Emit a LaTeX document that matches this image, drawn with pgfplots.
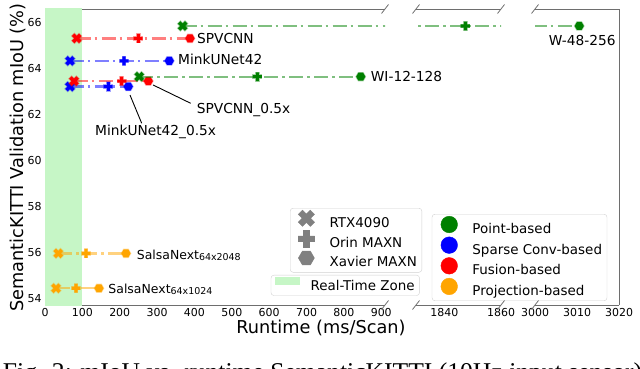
\documentclass[border=0pt]{standalone}
\usepackage{pgfplots}
\pgfplotsset{compat=1.18}
\usepackage{fontspec}
\setmainfont{DejaVu Sans}
\newfontfamily\capfont{Liberation Serif}
\definecolor{cG}{RGB}{0,128,0}
\definecolor{cB}{RGB}{0,0,255}
\definecolor{cR}{RGB}{255,0,0}
\definecolor{cO}{RGB}{255,165,0}
\definecolor{rtz}{RGB}{198,246,198}
\definecolor{spine}{RGB}{110,110,110}
\definecolor{mgray}{RGB}{128,128,128}

\newcommand\plusPath{%
 \pgfpathmoveto{\pgfqpoint{.35\pgfplotmarksize}{\pgfplotmarksize}}%
 \pgfpathlineto{\pgfqpoint{.35\pgfplotmarksize}{.35\pgfplotmarksize}}%
 \pgfpathlineto{\pgfqpoint{\pgfplotmarksize}{.35\pgfplotmarksize}}%
 \pgfpathlineto{\pgfqpoint{\pgfplotmarksize}{-.35\pgfplotmarksize}}%
 \pgfpathlineto{\pgfqpoint{.35\pgfplotmarksize}{-.35\pgfplotmarksize}}%
 \pgfpathlineto{\pgfqpoint{.35\pgfplotmarksize}{-\pgfplotmarksize}}%
 \pgfpathlineto{\pgfqpoint{-.35\pgfplotmarksize}{-\pgfplotmarksize}}%
 \pgfpathlineto{\pgfqpoint{-.35\pgfplotmarksize}{-.35\pgfplotmarksize}}%
 \pgfpathlineto{\pgfqpoint{-\pgfplotmarksize}{-.35\pgfplotmarksize}}%
 \pgfpathlineto{\pgfqpoint{-\pgfplotmarksize}{.35\pgfplotmarksize}}%
 \pgfpathlineto{\pgfqpoint{-.35\pgfplotmarksize}{.35\pgfplotmarksize}}%
 \pgfpathlineto{\pgfqpoint{-.35\pgfplotmarksize}{\pgfplotmarksize}}%
 \pgfpathclose}
\pgfdeclareplotmark{Pplus}{\plusPath\pgfusepathqfillstroke}
\pgfdeclareplotmark{Xcross}{\pgftransformrotate{45}\plusPath\pgfusepathqfillstroke}
\pgfdeclareplotmark{hexa}{%
 \pgfpathmoveto{\pgfqpointpolar{0}{\pgfplotmarksize}}%
 \pgfpathlineto{\pgfqpointpolar{60}{\pgfplotmarksize}}%
 \pgfpathlineto{\pgfqpointpolar{120}{\pgfplotmarksize}}%
 \pgfpathlineto{\pgfqpointpolar{180}{\pgfplotmarksize}}%
 \pgfpathlineto{\pgfqpointpolar{240}{\pgfplotmarksize}}%
 \pgfpathlineto{\pgfqpointpolar{300}{\pgfplotmarksize}}%
 \pgfpathclose\pgfusepathqfillstroke}

\tikzset{
 lg/.style={draw=black!18, rounded corners=3bp, fill=white,
   font=\fontsize{13.5}{15}\selectfont},
 lbl/.style={font=\fontsize{13.8}{16}\selectfont, inner sep=0pt},
}
\pgfplotsset{
 brk/.style={scale only axis, height=296bp, ymin=53.7, ymax=66.6,
   separate axis lines, axis line style={spine, line width=0.8bp},
   major tick length=0pt, tick label style={font=\fontsize{11}{13}\selectfont},
   /pgf/number format/assume math mode=true, /pgf/number format/1000 sep={},
   clip=true, clip mode=individual, legend cell align=left, anchor=south west},
 ln/.style={color=#1, line width=2.3bp, draw opacity=0.5,
   dash pattern=on 14bp off 4bp on 2.5bp off 4.5bp, mark=none},
 mk/.style={only marks, color=#1,
   mark options={solid, sharp corners, fill=#1, draw=#1, draw opacity=0.35, line width=1.4bp}},
}
\newcommand\lineplot[2]{\addplot[ln=#1, forget plot] coordinates {#2};}
\newcommand\mkplot[4]{\addplot[mk=#1, mark=#2, mark size=#3, forget plot] coordinates {#4};}
\newcommand\tri[5]{% color, y, x1, x2, x3
 \lineplot{#1}{(#3,#2)(#4,#2)(#5,#2)}
 \mkplot{#1}{Xcross}{5bp}{(#3,#2)}
 \mkplot{#1}{Pplus}{4.4bp}{(#4,#2)}
 \mkplot{#1}{hexa}{4.6bp}{(#5,#2)}}

\begin{document}
\begin{tikzpicture}[x=1bp,y=1bp]
% ---------------- segment 1 ----------------
\begin{axis}[brk, at={(45bp,63bp)}, width=340bp,
  xmin=0, xmax=910, xtick={0,100,...,900}, ytick={54,56,...,66},
  axis x line*=box, axis y line*=left, xticklabel pos=lower,
  legend image code/.code={\path (0bp,-5bp) (34bp,5bp); \draw[#1] plot coordinates {(13bp,4.5bp)};},
  legend style={lg, at={(0.7206,0.3277)}, anchor=north west}]
\addplot[fill=rtz, draw=none, forget plot] coordinates {(0,53.5)(0,66.8)(100,66.8)(100,53.5)} -- cycle;
% W-48-256 (point-based)
\lineplot{cG}{(368.5,65.86)(1847.4,65.86)(3010.5,65.86)}
\mkplot{cG}{Xcross}{5bp}{(368.5,65.86)}
% SPVCNN (fusion)
\tri{cR}{65.32}{84.8}{249.7}{388.1}
% MinkUNet42 (sparse conv)
\tri{cB}{64.34}{66.9}{211.4}{332.7}
% MinkUNet42_0.5x
\tri{cB}{63.22}{66.9}{169.4}{222.9}
% SPVCNN_0.5x
\tri{cR}{63.46}{77.6}{205.3}{276.5}
% WI-12-128 (point-based)
\tri{cG}{63.65}{252.2}{568.4}{845.1}
% SalsaNext (projection)
\tri{cO}{55.95}{35.6}{109.7}{216.8}
\tri{cO}{54.43}{29.4}{83.0}{144.5}
% labels
\node[lbl, anchor=base west] at (406.8,65.08) {SPVCNN};
\node[lbl, anchor=base west] at (356,64.16) {MinkUNet42};
\node[lbl, anchor=base west] at (871.7,63.42) {WI-12-128};
\node[lbl, anchor=base west] at (406,62.06) {SPVCNN\_0.5x};
\node[lbl, anchor=base west] at (133.8,61.10) {MinkUNet42\_0.5x};
\node[inner sep=0pt, anchor=base west, font=\fontsize{12.5}{15}\selectfont] at (245.4,55.69) {SalsaNext\raisebox{-1bp}{\fontsize{9.5}{11}\selectfont 64x2048}};
\node[inner sep=0pt, anchor=base west, font=\fontsize{12.5}{15}\selectfont] at (169.4,54.18) {SalsaNext\raisebox{-1bp}{\fontsize{9.5}{11}\selectfont 64x1024}};
\draw[black, line width=0.9bp] (289.1,63.29) -- (390,62.49);
\draw[black, line width=0.9bp] (227.5,62.85) -- (258.8,61.62);
% marker legend
\addlegendimage{only marks, mark=Xcross, mark size=8.5bp, color=mgray, mark options={sharp corners, fill=mgray, draw=mgray, line width=0.4bp}}
\addlegendentry{RTX4090}
\addlegendimage{only marks, mark=Pplus, mark size=8.2bp, color=mgray, mark options={sharp corners, fill=mgray, draw=mgray, line width=0.4bp}}
\addlegendentry{Orin MAXN}
\addlegendimage{only marks, mark=hexa, mark size=8bp, color=mgray, mark options={sharp corners, fill=mgray, draw=mgray, line width=0.4bp}}
\addlegendentry{Xavier MAXN}
\end{axis}
% ---------------- segment 2 ----------------
\begin{axis}[brk, at={(416bp,63bp)}, width=85bp,
  xmin=1830, xmax=1860, xtick={1840,1860}, ytick=\empty,
  axis x line*=box, axis y line=none, xticklabel pos=lower,
  legend image code/.code={\path (0bp,-5bp) (34.6bp,5bp); \path[#1, draw=none, sharp corners] (1bp,0.5bp) rectangle (26bp,8.5bp);},
  legend style={lg, at={(-1.7094,0.1014)}, anchor=north west}]
\lineplot{cG}{(368.5,65.86)(1847.4,65.86)(3010.5,65.86)}
\mkplot{cG}{Pplus}{4.4bp}{(1847.4,65.86)}
\addlegendimage{fill=rtz, draw=none}
\addlegendentry{Real-Time Zone}
\end{axis}
% ---------------- segment 3 ----------------
\begin{axis}[brk, at={(535bp,63bp)}, width=84bp,
  xmin=3000, xmax=3020, xtick={3000,3010,3020}, ytick=\empty,
  axis x line*=box, axis y line*=right, xticklabel pos=lower,
  legend image code/.code={\path (0bp,-5bp) (35bp,5bp); \draw[#1] plot coordinates {(14bp,4.5bp)};},
  legend style={lg, at={(-1.2298,0.3074)}, anchor=north west}]
\lineplot{cG}{(368.5,65.86)(1847.4,65.86)(3010.5,65.86)}
\mkplot{cG}{hexa}{4.6bp}{(3010.5,65.86)}
\node[lbl, anchor=base] at (3011.2,65.03) {W-48-256};
\addlegendimage{only marks, mark=*, mark size=8.3bp, color=cG}
\addlegendentry{Point-based}
\addlegendimage{only marks, mark=*, mark size=8.3bp, color=cB}
\addlegendentry{Sparse Conv-based}
\addlegendimage{only marks, mark=*, mark size=8.3bp, color=cR}
\addlegendentry{Fusion-based}
\addlegendimage{only marks, mark=*, mark size=8.3bp, color=cO}
\addlegendentry{Projection-based}
\end{axis}
% break marks
\foreach \bx in {385,416,501,535}{
  \draw[spine, line width=0.8bp] (\bx-3.5,359-4.5) -- (\bx+3.5,359+4.5);
  \draw[spine, line width=0.8bp] (\bx-3.5,63-4.5) -- (\bx+3.5,63+4.5);
}
% axis titles
\node[anchor=base, inner sep=0pt, font=\fontsize{17.8}{20}\selectfont] at (321,34.7) {Runtime (ms/Scan)};
\node[anchor=base, inner sep=0pt, rotate=90, font=\fontsize{17.8}{20}\selectfont] at (23.5,210.5) {SemanticKITTI Validation mIoU (\%)};
% caption (cut off at bottom as in the source)
\node[anchor=base west, inner sep=0pt, font=\capfont\fontsize{25.7}{30}\selectfont] at (2.7,-12.7) {Fig. 2: mIoU vs. runtime SemanticKITTI (10Hz input sensor)};
\pgfresetboundingbox
\path[use as bounding box] (0,0) rectangle (640,368);
\end{tikzpicture}
\end{document}
